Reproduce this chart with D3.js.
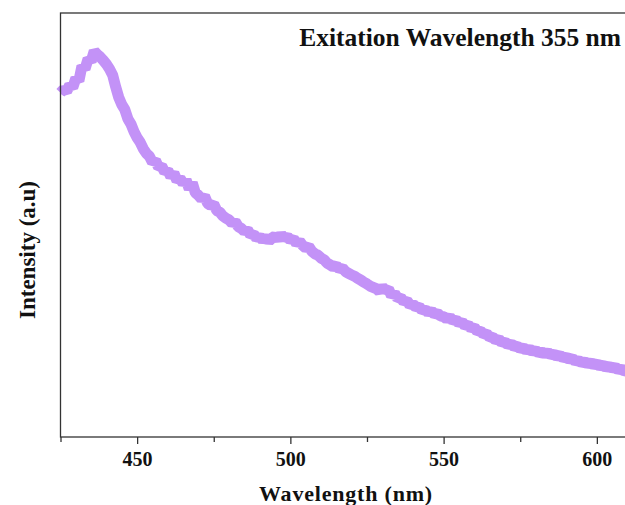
<!DOCTYPE html>
<head>
    <meta charset="utf-8">
    <script src="https://cdn.jsdelivr.net/npm/d3@7"></script>
    <style>
        body { margin: 0; background: #fff; }
        text { font-family: "Liberation Serif", "Times New Roman", serif; font-weight: bold; fill: #111; }
    </style>
    <title>PL spectrum</title>
</head>
<body>
    <div id="chart"></div>

    <script>
        // wavelength (nm), 1 nm step
        const wavelengthStart = 425;
        const intensity = [
            81.2, 82.0, 81.5, 83.0, 82.4, 84.6, 84.0, 87.5, 86.8, 89.2,
            88.6, 91.0, 90.2, 89.6, 88.8, 87.9, 86.8, 85.4, 82.6, 80.1,
            78.4, 77.2, 75.0, 73.8, 72.0, 70.6, 69.5, 68.0, 66.9, 66.2,
            64.8, 65.2, 63.6, 63.9, 62.5, 62.9, 61.4, 62.2, 60.5, 61.0,
            59.8, 60.6, 58.5, 59.9, 57.6, 57.0, 56.2, 56.8, 55.1, 54.6,
            54.9, 53.4, 53.0, 52.1, 51.6, 51.2, 50.4, 50.8, 49.6, 49.2,
            48.5, 48.9, 47.6, 47.9, 46.8, 47.3, 46.4, 47.1, 46.2, 46.9,
            47.4, 46.6, 47.8, 46.9, 47.3, 46.4, 46.8, 45.6, 46.2, 45.2,
            44.6, 44.9, 43.8, 43.2, 42.9, 42.2, 41.8, 41.0, 40.6, 40.1,
            40.4, 39.6, 39.9, 39.0, 38.6, 38.2, 37.9, 37.4, 37.0, 36.5,
            36.1, 35.6, 35.3, 35.0, 34.4, 35.4, 34.6, 34.9, 33.3, 33.9,
            32.7, 32.9, 31.9, 32.2, 31.1, 31.4, 30.5, 30.8, 29.8, 30.1,
            29.3, 29.8, 28.9, 29.2, 28.5, 28.4, 27.8, 28.3, 27.4, 27.7,
            26.8, 27.2, 26.2, 26.5, 25.6, 25.9, 24.9, 25.1, 24.2, 24.4,
            23.5, 23.6, 22.8, 23.1, 22.2, 22.5, 21.7, 22.0, 21.3, 21.5,
            20.8, 21.1, 20.4, 20.8, 20.1, 20.5, 19.8, 20.1, 19.6, 20.0,
            19.3, 19.6, 19.0, 19.3, 18.6, 18.9, 18.3, 18.6, 17.8, 18.1,
            17.5, 17.8, 17.2, 17.6, 17.0, 17.3, 16.7, 17.0, 16.4, 16.7,
            16.2, 16.5, 15.8, 16.1, 15.5, 15.7
        ];
        const majorTicks = [450, 500, 550, 600];
        const minorTicks = [425, 475, 525, 575];

        const width = 625, height = 505;
        const plotLeft = 60.5, plotRight = 627.5, plotTop = 13, plotBottom = 437;

        const svg = d3.select("#chart").append("svg")
            .attr("width", width)
            .attr("height", height);

        const x = d3.scaleLinear().domain([425, 610]).range([plotLeft, plotRight]);
        const y = d3.scaleLinear().domain([0, 100]).range([plotBottom, plotTop]);

        const data = intensity.map((v, i) => ({ wl: wavelengthStart + i, v: v }));

        // spectrum
        svg.append("path")
            .datum(data)
            .attr("fill", "none")
            .attr("stroke", "#c392f7")
            .attr("stroke-width", 11)
            .attr("stroke-linejoin", "bevel")
            .attr("d", d3.line().x(d => x(d.wl)).y(d => y(d.v)));

        // frame
        svg.append("rect")
            .attr("x", plotLeft).attr("y", plotTop)
            .attr("width", plotRight - plotLeft).attr("height", plotBottom - plotTop)
            .attr("fill", "none")
            .attr("stroke", "#333")
            .attr("stroke-width", 1.3);

        // x axis ticks
        const xAxis = svg.append("g")
            .attr("transform", `translate(0,${plotBottom})`)
            .call(d3.axisBottom(x).tickValues(majorTicks).tickSize(7).tickPadding(8));
        xAxis.select(".domain").remove();
        xAxis.selectAll("line").attr("stroke", "#333").attr("stroke-width", 1.3);
        xAxis.selectAll("text")
            .attr("font-family", null)
            .style("font-size", "20px");

        svg.append("g")
            .attr("transform", `translate(0,${plotBottom})`)
            .call(d3.axisBottom(x).tickValues(minorTicks).tickSize(5).tickFormat(""))
            .call(g => g.select(".domain").remove())
            .selectAll("line").attr("stroke", "#333").attr("stroke-width", 1.3);

        // axis titles
        svg.append("text")
            .attr("x", 346).attr("y", 501)
            .attr("text-anchor", "middle")
            .style("font-size", "22px")
            .style("letter-spacing", "0.8px")
            .text("Wavelength (nm)");

        svg.append("text")
            .attr("transform", "translate(35,250) rotate(-90)")
            .attr("text-anchor", "middle")
            .style("font-size", "23px")
            .text("Intensity (a.u)");

        svg.append("text")
            .attr("x", 621).attr("y", 46)
            .attr("text-anchor", "end")
            .style("font-size", "25.5px")
            .text("Exitation Wavelength 355 nm");
    </script>
</body>
